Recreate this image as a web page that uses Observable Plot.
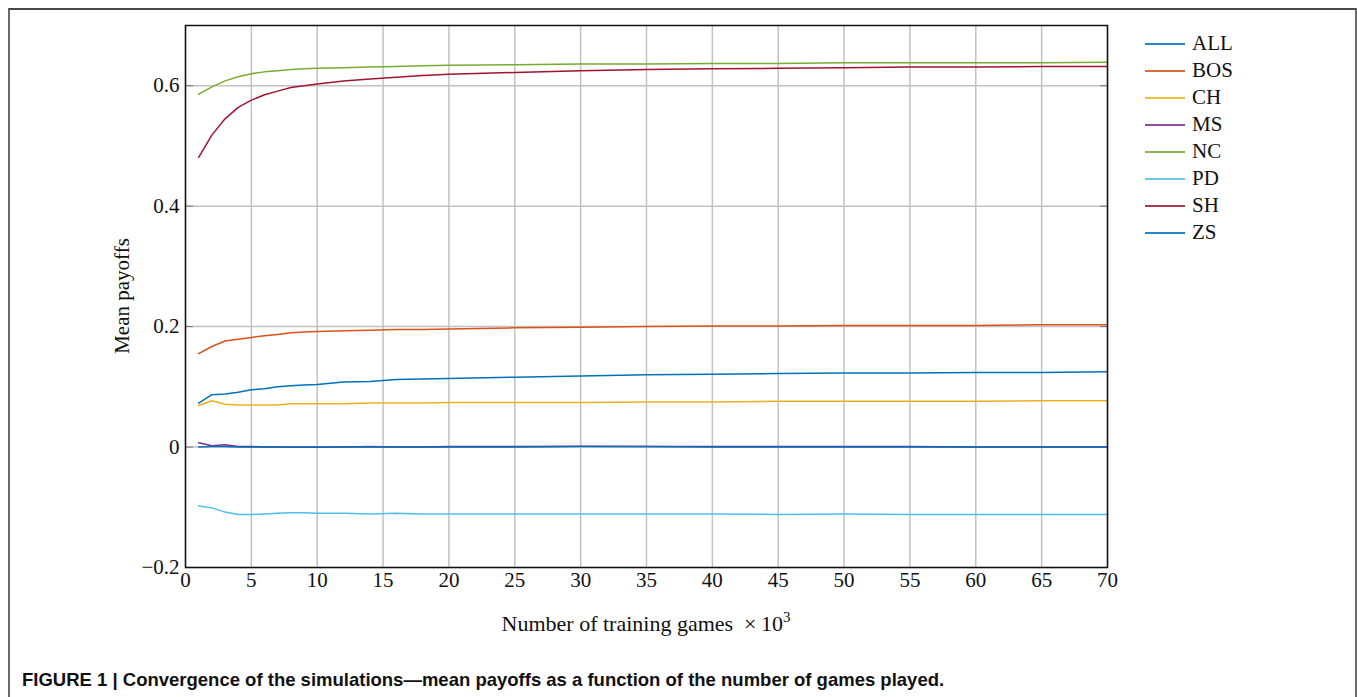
<!DOCTYPE html>
<html>
<head>
<meta charset="utf-8">
<script src="https://cdn.jsdelivr.net/npm/d3@7"></script>
<script src="https://cdn.jsdelivr.net/npm/@observablehq/plot@0.6"></script>
<style>
  html, body { margin: 0; padding: 0; background: #fff; }
  #wrap { position: relative; width: 1357px; height: 697px; overflow: hidden; background: #fff; }
  #border { position: absolute; left: 8px; top: 8px; width: 1345px; height: 720px;
            border-top: 2px solid #4a4a4a; border-left: 2px solid #6a6a6a; border-right: 2px solid #6a6a6a; }
  #chart { position: absolute; left: 0; top: 0; }
  .serif { font-family: "Liberation Serif", "Times New Roman", serif; color: #111; }
  #ylabel { position: absolute; left: 122px; top: 296px; transform: translate(-50%, -50%) rotate(-90deg);
            font-size: 21px; white-space: nowrap; }
  #xlabel { position: absolute; left: 646px; top: 623px; transform: translate(-50%, -50%);
            font-size: 22px; white-space: nowrap; }
  #legend { position: absolute; left: 1145px; top: 30px; }
  .item { display: flex; align-items: center; height: 27px; }
  .swatch { width: 40px; height: 0; border-top: 2px solid; margin-right: 7px; }
  .item span { font-size: 21px; line-height: 27px; }
  #caption { position: absolute; left: 22px; top: 669px; font-family: "Liberation Sans", Arial, sans-serif;
             font-weight: bold; font-size: 18.5px; color: #111; white-space: nowrap; }
</style>
</head>
<body>
<div id="wrap">
  <div id="border"></div>
  <div id="chart"></div>
  <div id="ylabel" class="serif">Mean payoffs</div>
  <div id="xlabel" class="serif">Number of training games &nbsp;×&#8239;10<sup style="font-size:15px">3</sup></div>
  <div id="legend" class="serif"></div>
  <div id="caption">FIGURE 1 | Convergence of the simulations—mean payoffs as a function of the number of games played.</div>
</div>
<script>
// Number of training games (×10^3)
const games = [1,2,3,4,5,6,7,8,9,10,12,14,16,18,20,25,30,35,40,45,50,55,60,65,70];

const seriesNames = ["ALL","BOS","CH","MS","NC","PD","SH","ZS"];
const seriesColors = ["#0072BD","#D95319","#EDB120","#7E2F8E","#77AC30","#4DBEEE","#A2142F","#0072BD"];

const ALL = [0.073,0.087,0.088,0.091,0.095,0.097,0.100,0.102,0.103,0.104,0.108,0.109,0.112,0.113,0.114,0.116,0.118,0.120,0.121,0.122,0.123,0.123,0.124,0.124,0.125];
const BOS = [0.155,0.167,0.176,0.179,0.182,0.185,0.187,0.190,0.191,0.192,0.193,0.194,0.195,0.195,0.196,0.198,0.199,0.200,0.201,0.201,0.202,0.202,0.202,0.203,0.203];
const CH  = [0.069,0.077,0.071,0.070,0.070,0.070,0.070,0.072,0.072,0.072,0.072,0.073,0.073,0.073,0.074,0.074,0.074,0.075,0.075,0.076,0.076,0.076,0.076,0.077,0.077];
const MS  = [0.007,0.002,0.004,0.001,0.001,0.000,0.000,-0.0005,-0.0005,-0.0005,0.000,0.000,0.000,0.000,0.001,0.001,0.0015,0.001,0.001,0.001,0.001,0.001,0.000,0.000,0.000];
const NC  = [0.586,0.598,0.608,0.615,0.620,0.623,0.625,0.627,0.628,0.629,0.630,0.631,0.632,0.633,0.634,0.635,0.636,0.636,0.637,0.637,0.638,0.638,0.638,0.638,0.639];
const PD  = [-0.098,-0.101,-0.108,-0.112,-0.112,-0.111,-0.110,-0.109,-0.109,-0.110,-0.110,-0.111,-0.110,-0.111,-0.111,-0.111,-0.111,-0.111,-0.111,-0.112,-0.111,-0.112,-0.112,-0.112,-0.112];
const SH  = [0.481,0.518,0.545,0.564,0.576,0.585,0.591,0.597,0.600,0.603,0.608,0.611,0.614,0.617,0.619,0.622,0.625,0.627,0.628,0.629,0.630,0.631,0.631,0.632,0.632];
const ZS  = [0.000,0.001,0.001,0.000,0.000,0.000,0.000,0.000,0.000,0.000,0.000,0.001,0.000,0.000,0.000,0.000,0.001,0.001,0.000,0.000,0.000,0.000,0.000,0.000,0.000];

const xTicks = [0,5,10,15,20,25,30,35,40,45,50,55,60,65,70];
const yTicks = [-0.2,0,0.2,0.4,0.6];

const seriesValues = [ALL, BOS, CH, MS, NC, PD, SH, ZS];
const rows = [];
seriesNames.forEach((name, i) => {
  games.forEach((g, j) => rows.push({series: name, games: g, payoff: seriesValues[i][j]}));
});

const fmtY = d => d === 0 ? "0" : d3.format(".1f")(d);
const font = '"Liberation Serif", "Times New Roman", serif';

const chart = Plot.plot({
  width: 1357,
  height: 600,
  marginLeft: 185,
  marginRight: 250,
  marginTop: 25,
  marginBottom: 33,
  style: {fontFamily: font, fontSize: "21px", color: "#111", background: "transparent", overflow: "visible"},
  x: {domain: [0, 70]},
  y: {domain: [-0.2, 0.7]},
  marks: [
    Plot.gridX(xTicks, {stroke: "#c2c2c2", strokeOpacity: 1, strokeWidth: 1.5}),
    Plot.gridY(yTicks, {stroke: "#c2c2c2", strokeOpacity: 1, strokeWidth: 1.5}),
    Plot.axisY(yTicks, {anchor: "left", tickSize: -8, tickFormat: () => "", stroke: "#777", label: null}),
    Plot.axisY(yTicks, {anchor: "right", tickSize: -8, tickFormat: () => "", stroke: "#777", label: null}),
    Plot.axisY(yTicks, {anchor: "left", tickSize: 0, tickPadding: 6, tickFormat: fmtY, label: null, fontSize: 21, fill: "#111"}),
    Plot.axisX(xTicks, {anchor: "bottom", tickSize: 0, tickPadding: 5, label: null, fontSize: 21, fill: "#111"}),
    ...seriesNames.map((name, i) =>
      Plot.line(rows.filter(r => r.series === name), {x: "games", y: "payoff", stroke: seriesColors[i], strokeWidth: 1.5})
    ),
    Plot.frame({stroke: "#111", strokeWidth: 1.5})
  ]
});
document.getElementById("chart").appendChild(chart);

const legend = document.getElementById("legend");
seriesNames.forEach((name, i) => {
  const item = document.createElement("div");
  item.className = "item";
  item.innerHTML = `<div class="swatch" style="border-color:${seriesColors[i]};opacity:0.85"></div><span>${name}</span>`;
  legend.appendChild(item);
});
</script>
</body>
</html>
